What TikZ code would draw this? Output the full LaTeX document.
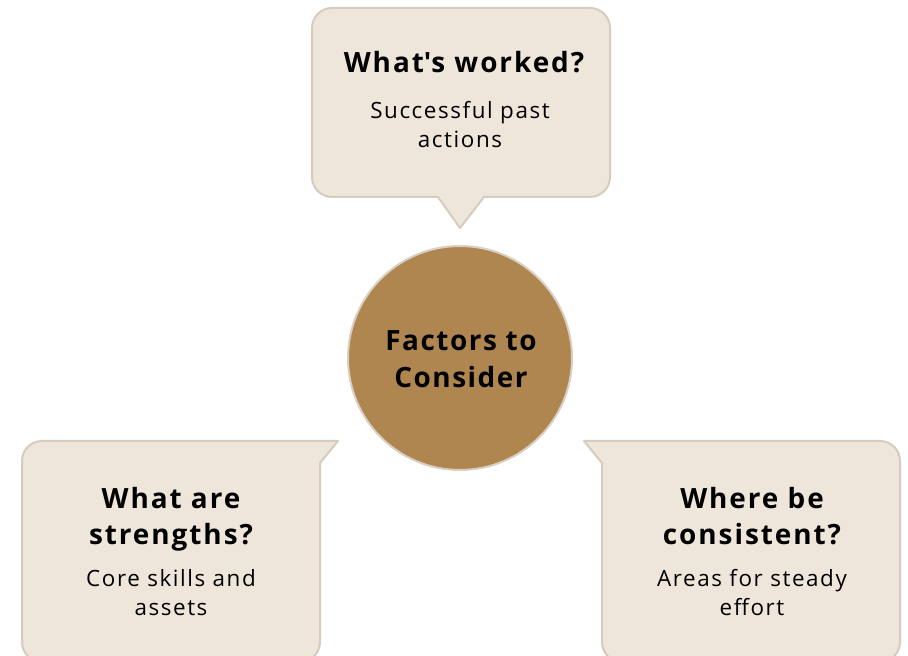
\documentclass[tikz,border=0pt]{standalone}
\usepackage{fontspec}
\setmainfont{Open Sans}
\newfontfamily\boxtitle{Open Sans}[LetterSpace=7]
\newfontfamily\circtitle{Open Sans}[LetterSpace=5.5]
\definecolor{boxfill}{HTML}{EFE6DB}
\definecolor{boxline}{HTML}{D6CBBD}
\definecolor{circfill}{HTML}{AF8550}
\definecolor{circline}{HTML}{D9CFC2}
\begin{document}
\begin{tikzpicture}[x=1bp,y=1bp,
  callout/.style={fill=boxfill,draw=boxline,line width=2bp,line join=round},
  title/.style={font=\boxtitle\bfseries\fontsize{28}{37}\selectfont,align=center,inner sep=0pt,text=black,anchor=base},
  sub/.style={font=\boxtitle\fontsize{22.5}{30}\selectfont,align=center,inner sep=0pt,text=black,anchor=base}]
\useasboundingbox (0,0) rectangle (908,656);
\clip (0,0) rectangle (908,656);
% top callout
\draw[callout] (332,648) -- (590,648) arc[start angle=90,end angle=0,radius=20]
  -- (610,479) arc[start angle=0,end angle=-90,radius=20]
  -- (484,459) -- (460,428) -- (438,459) -- (332,459)
  arc[start angle=270,end angle=180,radius=20] -- (312,628)
  arc[start angle=180,end angle=90,radius=20] -- cycle;
% left callout
\draw[callout] (22,14) -- (22,195) arc[start angle=180,end angle=90,radius=20]
  -- (338,215) -- (320,193) -- (320,14) arc[start angle=0,end angle=-90,radius=20]
  -- (42,-6) arc[start angle=270,end angle=180,radius=20] -- cycle;
% right callout
\draw[callout] (584,215) -- (880,215) arc[start angle=90,end angle=0,radius=20]
  -- (900,14) arc[start angle=0,end angle=-90,radius=20]
  -- (622,-6) arc[start angle=270,end angle=180,radius=20]
  -- (602,193) -- cycle;
% centre
\node[circle,fill=circfill,draw=circline,line width=2bp,minimum size=224bp,inner sep=0pt] (centre) at (460,298) {};
\node[title,font=\circtitle\bfseries\fontsize{28}{38}\selectfont] (ctext) at (461,268) {Factors to\\Consider};
% texts
\node[title] (t1) at (464,583) {What\textquotesingle s worked?};
\node[sub] (s1) at (460,508) {Successful past\\actions};
\node[title] (t2) at (171,111) {What are\\strengths?};
\node[sub] (s2) at (171,40) {Core skills and\\assets};
\node[title] (t3) at (752,111) {Where be\\consistent?};
\node[sub] (s3) at (752,40) {Areas for steady\\effort};
\end{tikzpicture}
\end{document}
